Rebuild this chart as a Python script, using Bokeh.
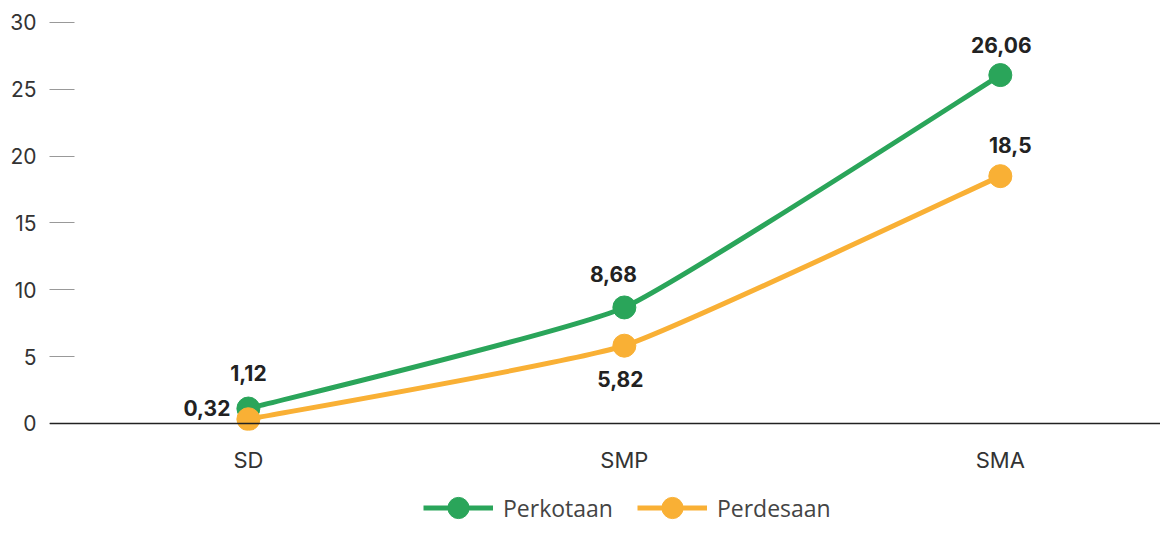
from bokeh.plotting import figure
from bokeh.layouts import column
from bokeh.models import (Range1d, FixedTicker, Span, Legend, LegendItem,
                          ColumnDataSource)
from bokeh.core.properties import value
from bokeh.embed import file_html
from bokeh.resources import INLINE

categories = ["SD", "SMP", "SMA"]
series_names = ["Perkotaan", "Perdesaan"]
perkotaan = [1.12, 8.68, 26.06]
perdesaan = [0.32, 5.82, 18.5]
label_kota = ["1,12", "8,68", "26,06"]
label_desa = ["0,32", "5,82", "18,5"]
y_ticks = [0, 5, 10, 15, 20, 25, 30]

GREEN = "#2aa55a"
ORANGE = "#f9b035"
TENSION = 0.07

xs = list(range(len(categories)))

p = figure(width=1160, height=475, x_range=Range1d(-0.529, 2.426),
           y_range=Range1d(-0.524, 30.74), output_backend="svg",
           toolbar_location=None, min_border_left=49, min_border_right=0,
           min_border_top=12, min_border_bottom=45)
p.outline_line_color = None
p.xgrid.visible = False
p.ygrid.visible = False
p.background_fill_color = "white"
p.border_fill_color = "white"

# y axis
ya = p.yaxis[0]
ya.ticker = FixedTicker(ticks=y_ticks)
ya.axis_line_color = None
ya.major_tick_in = 25
ya.major_tick_out = 0
ya.major_tick_line_color = "#999999"
ya.minor_tick_line_color = None
ya.major_label_standoff = 13
ya.major_label_text_font = "Inter"
ya.major_label_text_font_size = "21px"
ya.major_label_text_color = "#333333"

# x axis
xa = p.xaxis[0]
xa.ticker = FixedTicker(ticks=xs)
xa.major_label_overrides = {i: c for i, c in zip(xs, categories)}
xa.axis_line_color = None
xa.major_tick_line_color = None
xa.minor_tick_line_color = None
xa.major_label_standoff = 10
xa.major_label_text_font = "Inter"
xa.major_label_text_font_size = "22px"
xa.major_label_text_color = "#333333"

p.add_layout(Span(location=0, dimension="width", line_color="#222222",
                  line_width=1.6))


def bezier_source(ys):
    n = len(ys)
    x0, y0, x1, y1, cx0, cy0, cx1, cy1 = [], [], [], [], [], [], [], []
    def tangent(i):
        prv = i - 1 if i > 0 else i
        nxt = i + 1 if i < n - 1 else i
        return TENSION * (xs[nxt] - xs[prv]), TENSION * (ys[nxt] - ys[prv])
    for i in range(n - 1):
        tx0, ty0 = tangent(i)
        tx1, ty1 = tangent(i + 1)
        x0.append(xs[i]); y0.append(ys[i])
        x1.append(xs[i + 1]); y1.append(ys[i + 1])
        cx0.append(xs[i] + tx0); cy0.append(ys[i] + ty0)
        cx1.append(xs[i + 1] - tx1); cy1.append(ys[i + 1] - ty1)
    return ColumnDataSource(dict(x0=x0, y0=y0, x1=x1, y1=y1,
                                 cx0=cx0, cy0=cy0, cx1=cx1, cy1=cy1))


for ys, col in [(perkotaan, GREEN), (perdesaan, ORANGE)]:
    p.bezier(x0="x0", y0="y0", x1="x1", y1="y1", cx0="cx0", cy0="cy0",
             cx1="cx1", cy1="cy1", source=bezier_source(ys),
             line_color=col, line_width=5)
    p.scatter(xs, ys, size=23, fill_color=col, line_color=col,
              marker="circle")

# value labels
src_k = ColumnDataSource(dict(x=xs, y=perkotaan, t=label_kota,
                              dx=[0, -11, 1], dy=[-36, -33, -30],
                              al=["center", "center", "center"]))
src_d = ColumnDataSource(dict(x=xs, y=perdesaan, t=label_desa,
                              dx=[-18, -4, 10], dy=[-11, 33, -31],
                              al=["right", "center", "center"]))
for s in (src_k, src_d):
    p.text(x="x", y="y", text="t", x_offset="dx", y_offset="dy",
           text_align="al", text_baseline="middle", source=s,
           text_font=value("Inter"), text_font_style="bold",
           text_font_size="21px", text_color="#222222")

# legend strip (series drawn out of view, only their legend glyphs show)
lg = figure(width=1160, height=53, x_range=Range1d(0, 1),
            y_range=Range1d(1000, 1001), output_backend="svg",
            toolbar_location=None, x_axis_location=None,
            y_axis_location=None, min_border=0)
lg.outline_line_color = None
lg.xgrid.visible = False
lg.ygrid.visible = False
items = []
for name, ys, col in zip(series_names, [perkotaan, perdesaan],
                         [GREEN, ORANGE]):
    lr = lg.line(x=xs, y=ys, line_color=col, line_width=5)
    mr = lg.scatter(x=xs, y=ys, fill_color=col, line_color=col,
                    marker="circle")
    items.append(LegendItem(label=name, renderers=[lr, mr], index=0))
legend = Legend(items=items, orientation="horizontal", location=(374, -6),
                glyph_width=70, glyph_height=53, label_standoff=10,
                spacing=24, padding=0, margin=0,
                label_text_font="Open Sans", label_text_font_size="23px",
                label_text_color="#444444", border_line_color=None,
                background_fill_alpha=0)
lg.add_layout(legend, "center")

open("out.html", "w").write(file_html(column(p, lg, spacing=0), INLINE))
